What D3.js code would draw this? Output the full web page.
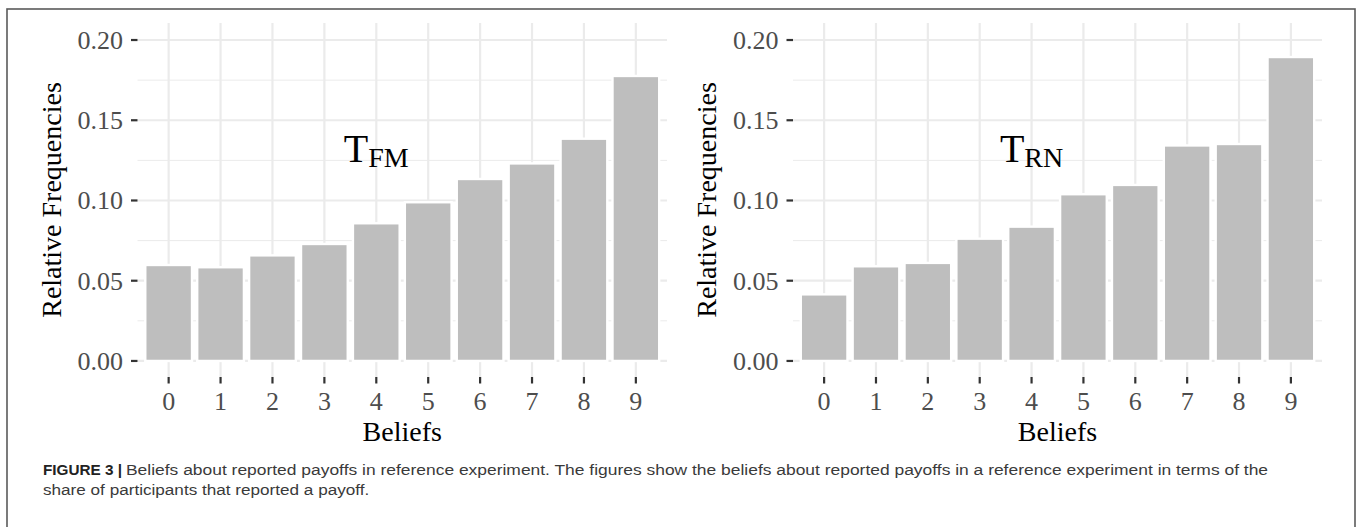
<!DOCTYPE html>
<html>
<head>
<meta charset="utf-8">
<script src="https://cdn.jsdelivr.net/npm/d3@7"></script>
<style>
  html, body { margin: 0; padding: 0; background: #fff; }
  svg { display: block; }
</style>
</head>
<body>
<svg id="chart" width="1358" height="527"></svg>
<script>
// ---- data ----
const categories = ["0", "1", "2", "3", "4", "5", "6", "7", "8", "9"];
const valuesFM = [0.0598, 0.0584, 0.0658, 0.0729, 0.0858, 0.0989, 0.1134, 0.1231, 0.1385, 0.1776];
const valuesRN = [0.0415, 0.0590, 0.0611, 0.0762, 0.0837, 0.1039, 0.1097, 0.1343, 0.1352, 0.1894];
const yTicks = [0, 0.05, 0.10, 0.15, 0.20];
const yMinor = [0.025, 0.075, 0.125, 0.175];
const yTickLabels = ["0.00", "0.05", "0.10", "0.15", "0.20"];
const panelLabels = [["T", "FM"], ["T", "RN"]];
const xTitle = "Beliefs";
const yTitle = "Relative Frequencies";
const captionBold = "FIGURE 3 |";
const captionLine1 = "Beliefs about reported payoffs in reference experiment. The figures show the beliefs about reported payoffs in a reference experiment in terms of the";
const captionLine2 = "share of participants that reported a payoff.";

// ---- layout ----
const svg = d3.select("#chart");
const pTop = 23, pBottom = 377;
const panels = [
  { left: 137.5, right: 667, values: valuesFM, label: panelLabels[0] },
  { left: 793, right: 1322, values: valuesRN, label: panelLabels[1] }
];
const y = d3.scaleLinear().domain([-0.01, 0.2106]).range([pBottom, pTop]);
const serif = "'Liberation Serif', 'Times New Roman', serif";
const sans = "'Liberation Sans', Arial, sans-serif";
const grid = "#EBEBEB";

// frame
svg.append("rect").attr("x", 7).attr("y", 9).attr("width", 1348).attr("height", 530)
  .attr("fill", "none").attr("stroke", "#5a5a5a").attr("stroke-width", 1.6);

panels.forEach(p => {
  const x = d3.scalePoint().domain(categories).range([p.left, p.right]).padding(0.6);
  const step = x.step();
  const g = svg.append("g");

  g.selectAll(".ymin").data(yMinor).join("line")
    .attr("x1", p.left).attr("x2", p.right)
    .attr("y1", d => y(d)).attr("y2", d => y(d))
    .attr("stroke", grid).attr("stroke-width", 1);
  g.selectAll(".ymaj").data(yTicks).join("line")
    .attr("x1", p.left).attr("x2", p.right)
    .attr("y1", d => y(d)).attr("y2", d => y(d))
    .attr("stroke", grid).attr("stroke-width", 2.2);
  g.selectAll(".xmaj").data(categories).join("line")
    .attr("x1", d => x(d)).attr("x2", d => x(d))
    .attr("y1", pTop).attr("y2", pBottom)
    .attr("stroke", grid).attr("stroke-width", 2.2);

  const bw = step * 0.9;
  g.selectAll(".bar").data(p.values).join("rect")
    .attr("x", (d, i) => x(categories[i]) - bw / 2)
    .attr("width", bw)
    .attr("y", d => y(d))
    .attr("height", d => y(0) - y(d))
    .attr("fill", "#BEBEBE")
    .attr("stroke", "#fff").attr("stroke-width", 2.4);

  g.selectAll(".ytick").data(yTicks).join("line")
    .attr("x1", p.left - 6.5).attr("x2", p.left)
    .attr("y1", d => y(d)).attr("y2", d => y(d))
    .attr("stroke", "#333").attr("stroke-width", 2.2);
  g.selectAll(".ylab").data(yTicks).join("text")
    .attr("x", p.left - 14.5).attr("y", d => y(d)).attr("dy", "0.34em")
    .attr("text-anchor", "end")
    .attr("font-family", serif).attr("font-size", 26).attr("fill", "#4D4D4D")
    .text((d, i) => yTickLabels[i]);

  g.selectAll(".xtick").data(categories).join("line")
    .attr("x1", d => x(d)).attr("x2", d => x(d))
    .attr("y1", pBottom).attr("y2", pBottom + 6.5)
    .attr("stroke", "#333").attr("stroke-width", 2.2);
  g.selectAll(".xlab").data(categories).join("text")
    .attr("x", d => x(d)).attr("y", 410)
    .attr("text-anchor", "middle")
    .attr("font-family", serif).attr("font-size", 26).attr("fill", "#4D4D4D")
    .text(d => d);

  g.append("text")
    .attr("x", (p.left + p.right) / 2).attr("y", 441)
    .attr("text-anchor", "middle")
    .attr("font-family", serif).attr("font-size", 28).attr("fill", "#000")
    .text(xTitle);
  g.append("text")
    .attr("transform", `translate(${p.left - 77},${(pTop + pBottom) / 2}) rotate(-90)`)
    .attr("text-anchor", "middle")
    .attr("font-family", serif).attr("font-size", 28).attr("fill", "#000")
    .text(yTitle);

  const ann = g.append("text")
    .attr("x", x("4")).attr("y", y(0.13) + 9.3)
    .attr("text-anchor", "middle")
    .attr("font-family", serif).attr("fill", "#000");
  ann.append("tspan").attr("font-size", 40).text(p.label[0]);
  ann.append("tspan").attr("font-size", 28).attr("dy", 5).text(p.label[1]);
});

// caption (slightly wide face in the reference -> horizontal stretch)
svg.append("text")
  .attr("x", 43).attr("y", 475)
  .attr("font-family", sans).attr("font-size", 15.3).attr("font-weight", "bold").attr("fill", "#222")
  .text(captionBold);
svg.append("g").attr("transform", "translate(126,475) scale(1.14,1)")
  .append("text")
  .attr("font-family", sans).attr("font-size", 15.3).attr("fill", "#3a3a3a")
  .text(captionLine1);
svg.append("g").attr("transform", "translate(43,495) scale(1.12,1)")
  .append("text")
  .attr("font-family", sans).attr("font-size", 15.3).attr("fill", "#3a3a3a")
  .text(captionLine2);
</script>
</body>
</html>
